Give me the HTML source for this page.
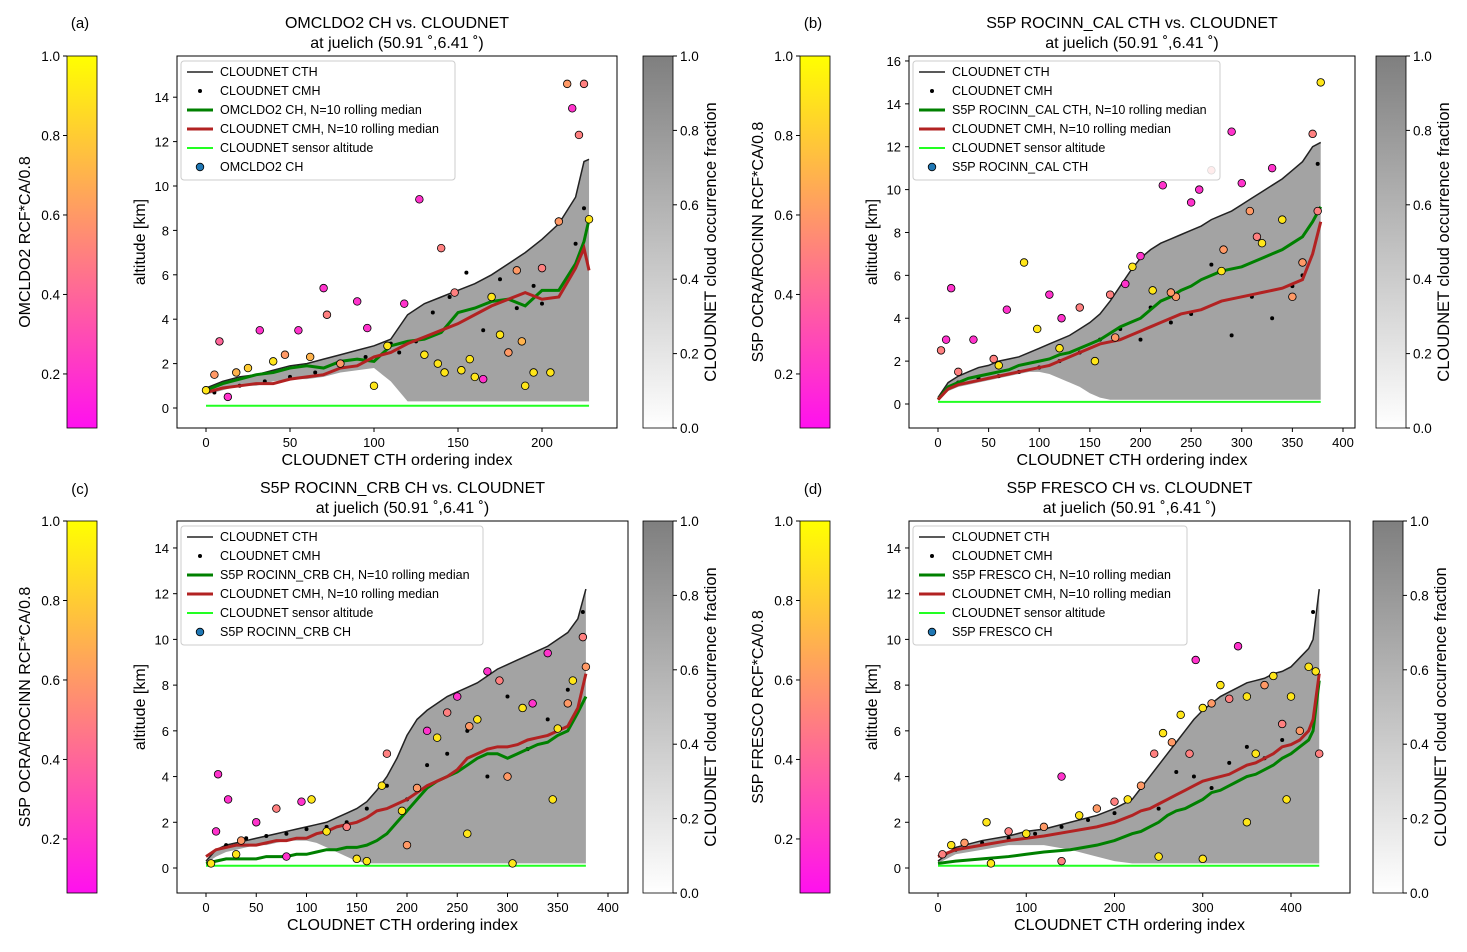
<!DOCTYPE html>
<html><head><meta charset="utf-8"><style>
body{margin:0;background:#fff;}
svg{display:block;font-family:"Liberation Sans","DejaVu Sans",sans-serif;}
</style></head><body>
<svg id="fig" width="1467" height="952" viewBox="0 0 1467 952" xmlns="http://www.w3.org/2000/svg">
<defs>
<linearGradient id="spring" x1="0" y1="1" x2="0" y2="0"><stop offset="0" stop-color="#ff10ef"/><stop offset="1" stop-color="#ffff00"/></linearGradient>
<linearGradient id="grays" x1="0" y1="1" x2="0" y2="0"><stop offset="0" stop-color="#ffffff"/><stop offset="1" stop-color="#7f7f7f"/></linearGradient>
</defs>
</svg>
<script>
// ---------- data (step 10 in ordering index unless noted) ----------
const aIdx=[0,10,20,30,40,50,60,70,80,90,100,110,120,130,140,150,160,170,180,190,200,210,220,225,228];
const aCTH=[0.9,1.2,1.4,1.5,1.7,1.9,2.0,2.2,2.4,2.6,2.8,3.1,4.2,4.7,5.0,5.3,5.6,6.0,6.5,7.0,7.6,8.3,9.5,11.1,11.2];
const aBase=[0.6,0.8,1.0,1.0,1.2,1.3,1.3,1.4,1.6,1.7,1.8,1.2,0.3,0.3,0.3,0.3,0.3,0.3,0.3,0.3,0.3,0.3,0.3,0.3,0.3];
const aGreen=[0.8,1.1,1.3,1.5,1.6,1.8,1.9,1.8,2.1,2.2,2.1,2.8,3.0,3.1,3.4,4.3,4.5,4.8,4.9,4.6,5.3,5.3,6.5,7.5,8.5];
const aRed=[0.7,0.9,1.0,1.1,1.1,1.3,1.4,1.5,1.8,1.9,2.3,2.5,2.9,3.2,3.5,3.8,4.2,4.6,4.9,5.2,4.9,5.0,6.3,7.2,6.2];
const aPtsX=[0,5,8,13,18,25,32,40,47,55,62,70,72,80,90,96,100,108,118,127,130,140,142,148,152,160,165,170,175,180,185,190,195,200,205,210,215,218,222,225,228,138,157,188];
const aPtsY=[0.8,1.5,3.0,0.5,1.6,1.8,3.5,2.1,2.4,3.5,2.3,5.4,4.2,2.0,4.8,3.6,1.0,2.8,4.7,9.4,2.4,7.2,1.6,5.2,1.7,1.4,1.3,5.0,3.3,2.5,6.2,1.0,1.6,6.3,1.6,8.4,14.6,13.5,12.3,14.6,8.5,2.0,2.2,3.0];
const aPtsV=[0.9,0.6,0.4,0.2,0.7,0.8,0.2,0.9,0.6,0.2,0.7,0.2,0.5,0.6,0.2,0.2,0.9,0.9,0.2,0.2,0.9,0.5,0.9,0.5,0.9,0.9,0.2,0.9,0.9,0.6,0.6,0.9,0.9,0.5,0.9,0.6,0.6,0.2,0.5,0.5,0.9,0.9,0.9,0.7];
const aCmhX=[5,20,35,50,65,80,95,110,115,125,135,145,155,165,175,185,195,200,210,220,225];
const aCmhY=[0.7,1.0,1.2,1.4,1.6,1.9,2.3,2.9,2.5,3.0,4.3,5.0,6.1,3.5,5.8,4.5,5.5,4.7,8.5,7.4,9.0];

const bIdx=[0,10,20,30,40,50,60,70,80,90,100,110,120,130,140,150,160,170,180,190,200,210,220,230,240,250,260,270,280,290,300,310,320,330,340,350,360,370,378];
const bCTH=[0.3,1.0,1.3,1.5,1.7,1.8,2.0,2.1,2.2,2.4,2.6,2.8,3.0,3.2,3.5,3.8,4.2,4.8,5.5,6.2,6.8,7.2,7.5,7.7,7.9,8.1,8.3,8.6,8.8,9.0,9.3,9.6,9.9,10.2,10.5,10.9,11.3,12.0,12.2];
const bBase=[0.2,0.6,0.8,0.9,1.0,1.1,1.2,1.3,1.4,1.5,1.5,1.4,1.2,1.0,0.8,0.5,0.3,0.2,0.2,0.2,0.2,0.2,0.2,0.2,0.2,0.2,0.2,0.2,0.2,0.2,0.2,0.2,0.2,0.2,0.2,0.2,0.2,0.2,0.2];
const bGreen=[0.2,0.8,1.0,1.2,1.3,1.4,1.5,1.6,1.8,1.9,2.0,2.1,2.3,2.4,2.6,2.8,3.0,3.3,3.6,3.8,4.0,4.4,4.8,5.0,5.3,5.5,5.8,6.0,6.2,6.3,6.4,6.6,6.8,7.0,7.2,7.5,7.8,8.5,9.2];
const bRed=[0.2,0.7,0.9,1.0,1.1,1.2,1.3,1.4,1.5,1.6,1.7,1.8,2.0,2.2,2.4,2.6,2.8,2.9,3.0,3.2,3.4,3.6,3.8,4.0,4.2,4.3,4.4,4.6,4.8,4.9,5.0,5.1,5.2,5.3,5.4,5.6,5.8,7.0,8.5];
const bPtsX=[3,8,13,20,35,55,68,85,98,110,122,140,155,170,175,185,192,200,212,222,235,250,258,270,282,290,300,308,315,330,340,350,360,370,375,378,60,120,230,280,320];
const bPtsY=[2.5,3.0,5.4,1.5,3.0,2.1,4.4,6.6,3.5,5.1,4.0,4.5,2.0,5.1,3.1,5.6,6.4,6.9,5.3,10.2,5.0,9.4,10.0,10.9,7.2,12.7,10.3,9.0,7.8,11.0,8.6,5.0,6.6,12.6,9.0,15.0,1.8,2.6,5.2,6.2,7.5];
const bPtsV=[0.5,0.2,0.2,0.5,0.2,0.5,0.2,0.9,0.9,0.2,0.2,0.5,0.9,0.5,0.6,0.2,0.9,0.2,0.9,0.2,0.6,0.2,0.2,0.5,0.6,0.2,0.2,0.6,0.5,0.2,0.9,0.6,0.6,0.5,0.5,0.9,0.9,0.9,0.6,0.9,0.9];
const bCmhX=[20,40,60,80,100,120,140,160,180,200,210,230,250,270,290,310,330,350,360,375];
const bCmhY=[1.0,1.2,1.3,1.5,1.7,2.0,2.4,3.0,3.5,3.0,4.5,3.8,4.2,6.5,3.2,5.0,4.0,5.5,6.0,11.2];

const cIdx=[0,10,20,30,40,50,60,70,80,90,100,110,120,130,140,150,160,170,180,190,200,210,220,230,240,250,260,270,280,290,300,310,320,330,340,350,360,370,378];
const cCTH=[0.3,0.8,1.0,1.1,1.2,1.3,1.4,1.5,1.6,1.7,1.8,1.9,2.0,2.2,2.4,2.6,2.9,3.4,4.0,4.8,5.8,6.5,6.9,7.2,7.5,7.7,7.9,8.1,8.4,8.7,8.9,9.1,9.3,9.5,9.7,10.0,10.3,10.9,12.2];
const cBase=[0.2,0.5,0.7,0.8,0.9,1.0,1.0,1.1,1.2,1.2,1.2,1.1,0.9,0.7,0.5,0.3,0.2,0.2,0.2,0.2,0.2,0.2,0.2,0.2,0.2,0.2,0.2,0.2,0.2,0.2,0.2,0.2,0.2,0.2,0.2,0.2,0.2,0.2,0.2];
const cGreen=[0.2,0.3,0.4,0.4,0.4,0.4,0.5,0.5,0.5,0.6,0.6,0.7,0.8,0.8,0.9,0.9,1.0,1.2,1.5,2.0,2.5,3.0,3.5,3.8,4.0,4.2,4.5,4.8,5.0,5.0,4.8,5.0,5.2,5.4,5.5,5.8,6.0,6.8,7.5];
const cRed=[0.5,0.8,0.9,1.0,1.0,1.0,1.1,1.2,1.2,1.3,1.3,1.5,1.6,1.8,1.9,2.0,2.2,2.5,2.6,2.8,3.0,3.3,3.6,3.8,4.0,4.3,4.8,5.0,5.2,5.3,5.3,5.4,5.6,5.7,5.8,6.0,6.2,7.0,8.5];
const cPtsX=[5,10,12,22,35,50,70,95,105,120,140,160,175,180,195,210,220,230,240,250,262,270,280,292,305,315,325,340,350,360,365,375,378,30,80,150,200,260,300,345];
const cPtsY=[0.2,1.6,4.1,3.0,1.2,2.0,2.6,2.9,3.0,1.6,1.8,0.3,3.6,5.0,2.5,3.5,6.0,5.7,6.8,7.5,6.2,6.5,8.6,8.2,0.2,7.0,7.2,9.4,6.1,7.2,8.2,10.1,8.8,0.6,0.5,0.4,1.0,1.5,4.0,3.0];
const cPtsV=[0.9,0.2,0.2,0.2,0.6,0.2,0.5,0.2,0.9,0.9,0.5,0.9,0.9,0.5,0.9,0.6,0.2,0.9,0.5,0.2,0.6,0.9,0.2,0.5,0.9,0.9,0.2,0.2,0.9,0.6,0.9,0.5,0.6,0.9,0.2,0.9,0.6,0.9,0.6,0.9];
const cCmhX=[20,40,60,80,100,120,140,160,180,200,220,240,260,280,300,320,340,360,375];
const cCmhY=[1.0,1.3,1.4,1.5,1.7,1.8,2.0,2.6,3.6,3.0,4.5,5.0,6.0,4.0,7.5,5.2,6.5,7.8,11.2];

const dIdx=[0,20,50,80,100,120,150,180,200,220,230,240,250,260,270,280,290,300,310,320,330,340,350,360,370,380,390,400,410,420,425,432];
const dCTH=[0.3,0.9,1.2,1.4,1.6,1.7,2.0,2.3,2.6,3.0,3.5,4.0,4.5,5.0,5.5,6.0,6.5,6.9,7.2,7.5,7.7,7.9,8.1,8.2,8.3,8.5,8.6,8.8,9.2,9.6,10.0,12.2];
const dBase=[0.2,0.6,0.8,1.0,1.0,1.0,0.8,0.5,0.3,0.2,0.2,0.2,0.2,0.2,0.2,0.2,0.2,0.2,0.2,0.2,0.2,0.2,0.2,0.2,0.2,0.2,0.2,0.2,0.2,0.2,0.2,0.2];
const dGreen=[0.2,0.3,0.4,0.5,0.6,0.7,0.8,1.0,1.2,1.5,1.6,1.8,2.0,2.3,2.5,2.6,2.8,3.0,3.3,3.4,3.6,3.8,4.0,4.1,4.3,4.5,4.8,5.0,5.3,5.6,6.0,8.2];
const dRed=[0.5,0.8,1.0,1.2,1.3,1.4,1.6,1.8,2.0,2.3,2.5,2.6,2.8,3.0,3.2,3.4,3.6,3.8,3.9,4.0,4.1,4.3,4.5,4.6,4.8,5.0,5.3,5.4,5.6,6.0,6.5,8.5];
const dPtsX=[5,15,30,55,80,100,120,140,160,180,200,215,230,245,255,265,275,285,292,300,310,320,330,340,350,360,370,380,390,400,410,420,428,432,60,140,250,300,350,395];
const dPtsY=[0.6,1.0,1.1,2.0,1.6,1.5,1.8,4.0,2.3,2.6,2.9,3.0,3.6,5.0,5.9,5.5,6.7,5.0,9.1,7.0,7.2,8.0,7.4,9.7,7.5,5.0,8.0,8.4,6.3,7.5,6.0,8.8,8.6,5.0,0.2,0.3,0.5,0.4,2.0,3.0];
const dPtsV=[0.5,0.9,0.6,0.9,0.5,0.9,0.6,0.2,0.9,0.6,0.5,0.9,0.6,0.5,0.9,0.6,0.9,0.5,0.2,0.9,0.6,0.9,0.5,0.2,0.9,0.9,0.6,0.9,0.5,0.9,0.6,0.9,0.9,0.5,0.9,0.5,0.9,0.9,0.9,0.9];
const dCmhX=[20,50,80,110,140,170,200,230,250,270,290,310,330,350,370,390,410,425];
const dCmhY=[0.8,1.1,1.3,1.5,1.8,2.1,2.4,3.5,2.6,4.2,4.0,3.5,4.6,5.3,4.8,5.6,6.0,11.2];

const panels=[
 {id:'a',L:177,R:617,T:56,B:428,x0:206,xk:1.68,y0:408,yk:22.2,xt:[0,50,100,150,200],yt:[0,2,4,6,8,10,12,14],
  title:'OMCLDO2 CH vs. CLOUDNET',prod:'OMCLDO2 CH',cb:'OMCLDO2 RCF*CA/0.8',cbx:67,gx:643,lbl:80,lw:274,
  idx:aIdx,cth:aCTH,base:aBase,gr:aGreen,rd:aRed,px:aPtsX,py:aPtsY,pv:aPtsV,cx:aCmhX,cy:aCmhY},
 {id:'b',L:909,R:1355,T:56,B:428,x0:938,xk:1.0125,y0:404,yk:21.44,xt:[0,50,100,150,200,250,300,350,400],yt:[0,2,4,6,8,10,12,14,16],
  title:'S5P ROCINN_CAL CTH vs. CLOUDNET',prod:'S5P ROCINN_CAL CTH',cb:'S5P OCRA/ROCINN RCF*CA/0.8',cbx:800,gx:1376,lbl:813,lw:307,
  idx:bIdx,cth:bCTH,base:bBase,gr:bGreen,rd:bRed,px:bPtsX,py:bPtsY,pv:bPtsV,cx:bCmhX,cy:bCmhY},
 {id:'c',L:177,R:628,T:521,B:893,x0:206,xk:1.005,y0:868,yk:22.86,xt:[0,50,100,150,200,250,300,350,400],yt:[0,2,4,6,8,10,12,14],
  title:'S5P ROCINN_CRB CH vs. CLOUDNET',prod:'S5P ROCINN_CRB CH',cb:'S5P OCRA/ROCINN RCF*CA/0.8',cbx:67,gx:643,lbl:80,lw:302,
  idx:cIdx,cth:cCTH,base:cBase,gr:cGreen,rd:cRed,px:cPtsX,py:cPtsY,pv:cPtsV,cx:cCmhX,cy:cCmhY},
 {id:'d',L:909,R:1350,T:521,B:893,x0:938,xk:0.8825,y0:868,yk:22.86,xt:[0,100,200,300,400],yt:[0,2,4,6,8,10,12,14],
  title:'S5P FRESCO CH vs. CLOUDNET',prod:'S5P FRESCO CH',cb:'S5P FRESCO RCF*CA/0.8',cbx:800,gx:1373,lbl:813,lw:274,
  idx:dIdx,cth:dCTH,base:dBase,gr:dGreen,rd:dRed,px:dPtsX,py:dPtsY,pv:dPtsV,cx:dCmhX,cy:dCmhY}
];
const NS='http://www.w3.org/2000/svg';
const svg=document.getElementById('fig');
function mk(tag,attrs,parent,text){const e=document.createElementNS(NS,tag);for(const k in attrs)e.setAttribute(k,attrs[k]);if(text!==undefined)e.textContent=text;(parent||svg).appendChild(e);return e;}
function springColor(v){return 'rgb(255,'+Math.round(255*v)+','+Math.round(255*(1-v))+')';}

panels.forEach(p=>{
 const g=mk('g',{});
 
 
 const X=v=>p.x0+v*p.xk, Y=v=>p.y0-v*p.yk;
 const cx=(p.L+p.R)/2;
 let t=mk('text',{x:p.lbl,y:28,'font-size':15,'text-anchor':'middle'},g,'('+p.id+')');
 if(p.T>400)t.setAttribute('y',494);
 
 
 t=mk('text',{x:cx,y:p.T-28,'font-size':16,'text-anchor':'middle'},g,p.title);
 
 
 t=mk('text',{x:cx,y:p.T-8,'font-size':16,'text-anchor':'middle'},g,'at juelich (50.91 \u02da,6.41 \u02da)');
 
 
 // gray fill
 let pts=p.idx.map((v,i)=>X(v)+','+Y(p.cth[i]));
 for(let i=p.idx.length-1;i>=0;i--)pts.push(X(p.idx[i])+','+Y(p.base[i]));
 let e=mk('polygon',{points:pts.join(' '),fill:'#808080','fill-opacity':0.72},g);
 
 
 // sensor altitude
 e=mk('line',{x1:X(0),x2:X(p.idx[p.idx.length-1]),y1:Y(0.1),y2:Y(0.1),stroke:'#22ff22','stroke-width':2},g);
 
 
 // CTH line
 e=mk('polyline',{points:p.idx.map((v,i)=>X(v)+','+Y(p.cth[i])).join(' '),fill:'none',stroke:'#222','stroke-width':1.5},g);
 
 
 // CMH dots
 p.cx.forEach((v,i)=>{const d=mk('circle',{cx:X(v),cy:Y(p.cy[i]),r:2,fill:'#000'},g);
  
  });
 // medians
 e=mk('polyline',{points:p.idx.map((v,i)=>X(v)+','+Y(p.gr[i])).join(' '),fill:'none',stroke:'#008000','stroke-width':3},g);
 
 
 e=mk('polyline',{points:p.idx.map((v,i)=>X(v)+','+Y(p.rd[i])).join(' '),fill:'none',stroke:'#b22222','stroke-width':3},g);
 
 
 // product scatter
 p.px.forEach((v,i)=>{const d=mk('circle',{cx:X(v),cy:Y(p.py[i]),r:3.8,fill:springColor(p.pv[i]),stroke:'#000','stroke-width':0.8},g);
  
  });
 // axes frame
 e=mk('rect',{x:p.L,y:p.T,width:p.R-p.L,height:p.B-p.T,fill:'none',stroke:'#000','stroke-width':1},g);
 
 
 p.xt.forEach(v=>{mk('line',{x1:X(v),x2:X(v),y1:p.B,y2:p.B+4,stroke:'#000'},g);
  const tt=mk('text',{x:X(v),y:p.B+19,'font-size':13,'text-anchor':'middle'},g,v);
  
  });
 p.yt.forEach(v=>{mk('line',{x1:p.L-4,x2:p.L,y1:Y(v),y2:Y(v),stroke:'#000'},g);
  const tt=mk('text',{x:p.L-8,y:Y(v)+5,'font-size':13,'text-anchor':'end'},g,v);
  
  });
 t=mk('text',{x:cx,y:p.B+37,'font-size':16,'text-anchor':'middle'},g,'CLOUDNET CTH ordering index');
 
 
 const ym=(p.T+p.B)/2;
 t=mk('text',{x:0,y:0,'font-size':16,'text-anchor':'middle',transform:'translate('+(p.L-32)+','+ym+') rotate(-90)'},g,'altitude [km]');
 
 
 // legend
 const lg=mk('g',{},g);
 
 
 mk('rect',{x:p.L+4,y:p.T+5,width:p.lw,height:119,rx:3,fill:'#fff','fill-opacity':0.85,stroke:'#ccc'},lg);
 const labs=['CLOUDNET CTH','CLOUDNET CMH',p.prod+', N=10 rolling median','CLOUDNET CMH, N=10 rolling median','CLOUDNET sensor altitude',p.prod];
 labs.forEach((s,i)=>{const yy=p.T+16+i*19,lx=p.L+10;
  if(i==0)mk('line',{x1:lx,x2:lx+26,y1:yy,y2:yy,stroke:'#222','stroke-width':1.5},lg);
  if(i==1)mk('circle',{cx:lx+13,cy:yy,r:2,fill:'#000'},lg);
  if(i==2)mk('line',{x1:lx,x2:lx+26,y1:yy,y2:yy,stroke:'#008000','stroke-width':3},lg);
  if(i==3)mk('line',{x1:lx,x2:lx+26,y1:yy,y2:yy,stroke:'#b22222','stroke-width':3},lg);
  if(i==4)mk('line',{x1:lx,x2:lx+26,y1:yy,y2:yy,stroke:'#22ff22','stroke-width':2},lg);
  if(i==5)mk('circle',{cx:lx+13,cy:yy,r:3.8,fill:'#1f77b4',stroke:'#000','stroke-width':0.8},lg);
  const le=mk('text',{x:lx+33,y:yy+4,'font-size':12.5},lg,s);
  
  });
 // spring colorbar
 const cT=p.T,cB=p.B,cbk=(cB-cT)/(1-0.064);
 e=mk('rect',{x:p.cbx,y:cT,width:30,height:cB-cT,fill:'url(#spring)',stroke:'#000','stroke-width':0.8},g);
 
 
 [0.2,0.4,0.6,0.8,1.0].forEach(v=>{const yy=cT+(1-v)*cbk;
  mk('line',{x1:p.cbx-4,x2:p.cbx,y1:yy,y2:yy,stroke:'#000'},g);
  const tt=mk('text',{x:p.cbx-7,y:yy+5,'font-size':13.5,'text-anchor':'end'},g,v.toFixed(1));
  
  });
 t=mk('text',{x:0,y:0,'font-size':16,'text-anchor':'middle',transform:'translate('+(p.cbx-37)+','+ym+') rotate(-90)'},g,p.cb);
 
 
 // gray colorbar
 e=mk('rect',{x:p.gx,y:cT,width:30,height:cB-cT,fill:'url(#grays)',stroke:'#000','stroke-width':0.8},g);
 
 
 [0,0.2,0.4,0.6,0.8,1.0].forEach(v=>{const yy=cB-v*(cB-cT);
  mk('line',{x1:p.gx+30,x2:p.gx+34,y1:yy,y2:yy,stroke:'#000'},g);
  const tt=mk('text',{x:p.gx+37,y:yy+5,'font-size':13.5},g,v.toFixed(1));
  
  });
 t=mk('text',{x:0,y:0,'font-size':16.5,'text-anchor':'middle',transform:'translate('+(p.gx+73)+','+ym+') rotate(-90)'},g,'CLOUDNET cloud occurrence fraction');
 
 
});
</script>
</body></html>
